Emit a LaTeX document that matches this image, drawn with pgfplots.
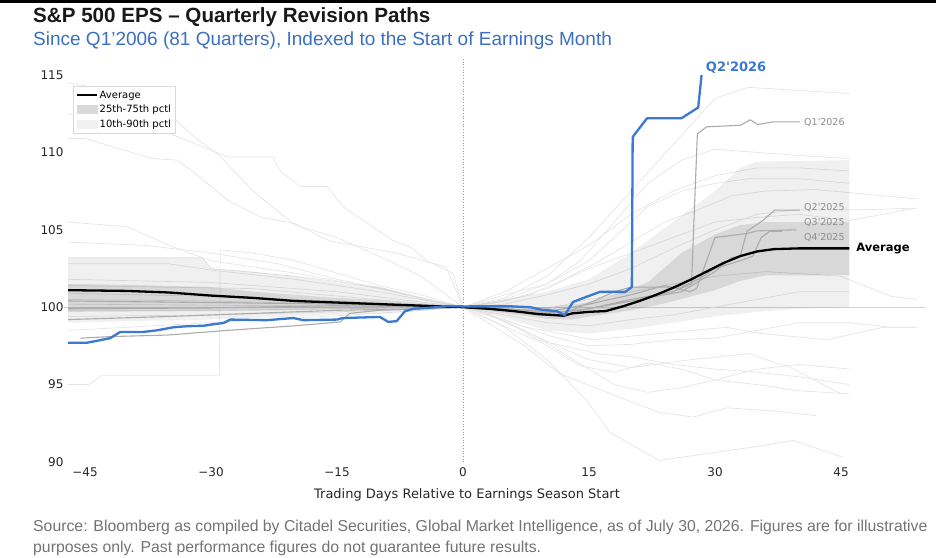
\documentclass[border=0pt]{standalone}
\usepackage{pgfplots}
\pgfplotsset{compat=1.18}
\usepackage{fontspec}
\setmainfont{Liberation Sans}
\newfontfamily\dv{DejaVu Sans}
\definecolor{qblue}{HTML}{3A78D2}
\definecolor{subblue}{HTML}{3B6FBF}
\definecolor{faint}{HTML}{E5E5E5}
\definecolor{mid}{HTML}{ABABAB}
\begin{document}
\begin{tikzpicture}
\begin{axis}[
  name=ax,
  scale only axis, width=861pt, height=402.5pt,
  xmin=-47.5, xmax=55, ymin=90, ymax=116,
  clip=false,
  axis line style={draw=none},
  tick style={draw=none},
  xtick={-45,-30,-15,0,15,30,45},
  xticklabels={−45,−30,−15,0,15,30,45},
  ytick={90,95,100,105,110,115},
  yticklabels={90,95,100,105,110,115},
  ticklabel style={font=\dv\fontsize{12}{12}\selectfont, text=black!85},
  xticklabel style={yshift=-2pt},
  yticklabel style={xshift=3pt},
  legend cell align=left,
  legend style={at={(axis description cs:0.0105,0.934)}, anchor=north west,
    draw=black!15, fill=white, font=\dv\fontsize{10}{12}\selectfont,
    row sep=2.5pt, inner sep=3pt, nodes={inner sep=1.5pt}},
]
\addlegendimage{legend image code/.code={\draw[black, line width=2pt] (0pt,0pt) -- (20pt,0pt);}}
\addlegendentry{Average}
\addlegendimage{legend image code/.code={\fill[black!15] (0pt,-4pt) rectangle (20pt,4pt);}}
\addlegendentry{25th-75th pctl}
\addlegendimage{legend image code/.code={\fill[black!6] (0pt,-4pt) rectangle (20pt,4pt);}}
\addlegendentry{10th-90th pctl}

% reference lines
\addplot[forget plot, black!18, line width=0.8pt] coordinates {(-47.5,100) (55,100)};
\addplot[forget plot, black!40, dotted, line width=0.7pt] coordinates {(0,90) (0,116)};

% faint individual quarter paths
\addplot[forget plot, faint, line width=0.7pt] coordinates {(-47,110.9) (-45,110.9) (-37,109.6) (-34,109.5) (-32,108.7) (-28,106.9) (-24,105.8) (-20,105.4) (-16,104.3) (-12,103.9) (-8,103.5) (-2,102.6) (0,100) (3,99.6) (6,98.8) (10,97.5) (14,96.2) (18,95.8) (22,96.4) (26,96.0) (30,95.3) (35,95.0) (40,94.6) (46,94.4)};
\addplot[forget plot, faint, line width=0.7pt] coordinates {(-47,112.5) (-40,112.3) (-33,110.8) (-28,109.7) (-22.6,109.7) (-21.8,108.8) (-19.4,107.8) (-16.2,107.8) (-14.3,106.5) (-8.3,104.3) (-6.3,103.9) (-4.3,103.0) (-1.2,102.2) (0,100) (4,100.3) (8,100.8) (12,101.8) (16,102.9) (20,104.2) (24,105.5) (28,106.3) (32,107.2) (36,107.5) (42,107.6) (50,107.2) (54,107.0)};
\addplot[forget plot, faint, line width=0.7pt] coordinates {(-47,114.5) (-42,114.0) (-36,113.0) (-32,111.0) (-29,109.8) (-25,107.5) (-20,105.3) (-15,104.5) (-10,103.3) (-5,102.0) (0,100) (5,100.6) (10,102.0) (15,104.5) (20,107.5) (25,110.5) (30,113.5) (34,114.2) (40,114.0) (46,113.8)};
\addplot[forget plot, faint, line width=0.7pt] coordinates {(-47,95.0) (-44.5,95.0) (-43,95.6) (-29,95.6) (-28.9,103.7) (-25,103.5) (-20,103.0) (-15,102.2) (-10,101.4) (-5,100.8) (0,100) (5,99.1) (10,97.8) (15,96.6) (20,96.1) (27,96.6) (34,97.0) (39,96.1) (45,94.4)};
\addplot[forget plot, faint, line width=0.7pt] coordinates {(-47,102.8) (-35,102.8) (-30,102.4) (-20,101.8) (-10,101.0) (0,100) (5,98.7) (10,96.6) (14.7,94.0) (17.5,91.9) (23.4,90.1) (29.8,90.6) (35,91.0) (39.3,91.4) (45.2,90.3)};
\addplot[forget plot, faint, line width=0.7pt] coordinates {(-47,103.2) (-31,103.2) (-30,102.5) (-20,102.0) (-10,101.3) (-5,100.6) (0,100) (7.6,97.4) (11.5,95.7) (19.5,94.0) (23.4,93.2) (27.4,92.9) (31.4,93.5) (36.9,93.3) (42,93.0)};
\addplot[forget plot, faint, line width=0.7pt] coordinates {(-47,101.8) (-30,101.6) (-15,101.0) (0,100) (7.6,98.7) (15.5,97.9) (23.4,98.3) (31.4,98.7) (35.4,98.3) (43.3,97.9) (50,98.7) (54,98.7)};
\addplot[forget plot, faint, line width=0.7pt] coordinates {(-47,100.5) (-30,100.4) (-15,100.2) (0,100) (5,100.2) (10,100.8) (15,101.5) (20,102.5) (25,103.8) (30,105.0) (35,106.0) (40,106.3) (48,106.3) (54,106.4)};
\addplot[forget plot, faint, line width=0.7pt] coordinates {(-47,99.4) (-30,99.5) (-15,99.7) (0,100) (5,99.8) (10,99.9) (15,100.5) (20,101.0) (25,101.5) (30,102.0) (36,102.3) (45,102.0) (51,100.7) (54,100.5)};
\addplot[forget plot, faint, line width=0.7pt] coordinates {(-47,105.5) (-40,105.2) (-35,104.0) (-30,103.0) (-20,102.2) (-10,101.2) (0,100) (5,101.0) (10,102.5) (15,104.0) (20,106.0) (25,107.5) (30,108.5) (35,109.0) (40,109.0) (46,108.8)};
\addplot[forget plot, faint, line width=0.7pt] coordinates {(-47,98.5) (-40,98.7) (-30,99.0) (-20,99.3) (-10,99.6) (0,100) (4,99.0) (8,98.0) (12,97.5) (16,97.0) (20,96.8) (25,96.3) (30,96.0) (35,95.8) (40,95.5) (46,95.0)};
\addplot[forget plot, faint, line width=0.7pt] coordinates {(-47,104.2) (-38,104.0) (-30,103.5) (-22,102.8) (-15,101.8) (-8,101.0) (0,100) (5,100.4) (10,101.2) (15,102.5) (20,103.5) (25,104.5) (30,105.5) (35,105.8) (40,106.0) (46,105.6) (54,106.4)};
\addplot[forget plot, faint, line width=0.7pt] coordinates {(-47,100.9) (-30,100.7) (-15,100.4) (0,100) (3,99.5) (6,98.8) (9,98.0) (12,97.0) (15,96.0) (18,95.0) (22,94.5) (26,94.8) (30,95.3) (35,96.0) (40,96.3) (46,96.0)};
\addplot[forget plot, faint, line width=0.7pt] coordinates {(-47,99.8) (-30,99.8) (0,100) (5,99.5) (10,99.0) (15,98.8) (20,99.2) (25,99.5) (30,100.0) (35,100.5) (40,101.0) (46,101.0)};
\addplot[forget plot, faint, line width=0.7pt] coordinates {(-47,101.4) (-25,101.2) (0,100) (5,100.8) (10,101.5) (14,103.0) (18,105.5) (22,108.0) (26,109.5) (30,110.2) (35,110.0) (40,109.8) (46,109.6)};
\addplot[forget plot, faint, line width=0.7pt] coordinates {(-47,100.2) (0,100) (5,99.2) (10,98.2) (15,97.5) (20,97.6) (25,97.9) (30,98.0) (35,98.5) (40,99.0) (46,99.0) (51,98.7) (54,98.7)};
\addplot[forget plot, faint, line width=0.7pt] coordinates {(0,100) (5,100.5) (10,101.5) (15,103.0) (18,104.5) (22,106.5) (26,107.5) (30,108.0) (34,108.3) (40,108.3) (46,108.0)};

% percentile bands
\addplot[forget plot, draw=none, fill=black, fill opacity=0.06] coordinates {
 (-47,103.2) (-31,103.2) (-30,102.5) (-25,102.3) (-20,102.0) (-15,101.6) (-10,101.3) (-5,100.6) (0,100) (5,100.5) (10,101.0) (15,101.8) (20,103.5) (25,105.5) (30,107.5) (33,109.0) (35,109.4) (46,109.5)
 (46,100.0) (40,99.9) (35,99.7) (30,99.4) (25,99.0) (20,98.6) (15,98.3) (10,98.5) (5,99.3) (0,100) (-5,99.75) (-10,99.6) (-20,99.4) (-30,99.2) (-40,99.1) (-47,99.0)} -- cycle;
\addplot[forget plot, draw=none, fill=black, fill opacity=0.10] coordinates {
 (-47,101.5) (-40,101.45) (-30,101.3) (-25,101.0) (-20,100.8) (-15,100.6) (-10,100.45) (-5,100.2) (0,100) (5,100.1) (10,100.0) (15,100.3) (18,100.8) (22,101.6) (26,103.5) (30,104.7) (33,105.3) (36,105.5) (46,105.5)
 (46,102.07) (36,102.05) (33,101.7) (30,101.1) (24,100.25) (20,99.8) (15,99.4) (13,99.2) (10,99.25) (5,99.6) (0,100) (-5,99.95) (-15,99.85) (-30,99.75) (-47,99.7)} -- cycle;

% recent quarters (medium grey)
\addplot[forget plot, mid, line width=1.1pt] coordinates {(-45.6,98.0) (-42,98.1) (-35.2,98.2) (-28.1,98.5) (-20,98.8) (-14.6,99.05) (-13.5,99.6) (-10,99.8) (-5,99.9) (0,100) (5,99.8) (10,99.6) (14,99.8) (18,100.2) (22,100.6) (26,101.0) (30,102.3) (32,103.2) (33,103.3) (33.8,104.9) (35.7,105.6) (37.1,106.27) (40.1,106.27)};
\addplot[forget plot, mid, line width=1.1pt] coordinates {(-47,99.2) (-35,99.4) (-25,99.6) (-15,99.8) (-5,99.9) (0,100) (5,99.9) (10,99.7) (15,100.2) (20,100.8) (24,101.4) (27,101.0) (27.8,101.2) (30,104.5) (33.8,104.76) (35,104.93) (39.7,105.0)};
\addplot[forget plot, mid, line width=1.1pt] coordinates {(-47,99.9) (-30,99.95) (-15,100.1) (0,100) (8,99.8) (12,99.6) (16,100.5) (18,101.0) (20,101.3) (26,101.3) (28,101.8) (30,102.5) (33,103.0) (34.5,103.3) (35.5,104.5) (36.5,104.9) (38,104.9)};
\addplot[forget plot, mid, line width=1.1pt] coordinates {(-47,100.4) (-30,100.3) (-15,100.2) (0,100) (5,99.8) (10,99.6) (15,99.9) (20,100.5) (25,101.0) (27.2,101.5) (27.9,111.2) (29,111.65) (33,111.75) (34.2,112.1) (35.1,111.8) (36.9,111.97) (40.1,111.97)};

% average
\addplot[forget plot, black, line width=2.3pt] coordinates {(-47,101.1) (-40,101.05) (-35,100.95) (-30,100.75) (-25,100.6) (-20,100.4) (-15,100.3) (-10,100.2) (-5,100.1) (0,100) (3,99.9) (6,99.75) (9,99.55) (12,99.45) (13,99.6) (15,99.7) (17,99.75) (19,100.05) (21,100.4) (23,100.8) (25,101.25) (27,101.75) (29,102.3) (31,102.85) (33,103.3) (35,103.6) (37,103.75) (40,103.8) (46,103.8)};

% current quarter
\addplot[forget plot, qblue, line width=2.3pt, line join=round] coordinates {(-47,97.7) (-44.8,97.7) (-43.2,97.87) (-42,98.0) (-40.8,98.4) (-38.1,98.4) (-36.5,98.5) (-34.5,98.7) (-32.9,98.77) (-30.9,98.8) (-29.7,98.9) (-28.5,98.98) (-27.7,99.2) (-23.4,99.16) (-20.2,99.3) (-19,99.16) (-15,99.2) (-14.3,99.3) (-9.9,99.37) (-8.9,99.05) (-7.9,99.1) (-6.9,99.74) (-5.9,99.9) (-3.6,99.98) (-1.9,100.08) (0,100.05) (5.6,100.06) (8,100) (9.2,99.85) (11.2,99.74) (12.1,99.48) (13.1,100.34) (14.7,100.67) (16.3,100.99) (19.3,100.99) (20.1,101.3) (20.2,111.0) (21.9,112.2) (26,112.2) (28,112.9) (28.4,115.0)};

% labels
\node[anchor=west, inner sep=0, text=black!45, font=\dv\fontsize{9.5}{11}\selectfont] at (axis cs:40.6,111.9) {Q1'2026};
\node[anchor=west, inner sep=0, text=black!45, font=\dv\fontsize{9.5}{11}\selectfont] at (axis cs:40.6,106.45) {Q2'2025};
\node[anchor=west, inner sep=0, text=black!45, font=\dv\fontsize{9.5}{11}\selectfont] at (axis cs:40.6,105.45) {Q3'2025};
\node[anchor=west, inner sep=0, text=black!45, font=\dv\fontsize{9.5}{11}\selectfont] at (axis cs:40.6,104.5) {Q4'2025};
\node[anchor=west, inner sep=0, text=black, font=\dv\bfseries\fontsize{11.5}{13}\selectfont] at (axis cs:46.8,103.8) {Average};
\node[anchor=west, inner sep=0, text=qblue, font=\dv\bfseries\fontsize{13}{15}\selectfont] at (axis cs:28.9,115.45) {Q2'2026};
\end{axis}
\begin{scope}[shift={(ax.south west)}, x=1pt, y=1pt, xshift=-64pt, yshift=-95pt]
\fill[black] (0,554) rectangle (936,557);
\node[anchor=west,inner sep=0,text=black!90] at (33,540) {\fontsize{20.6}{24}\selectfont\bfseries S\&P 500 EPS – Quarterly Revision Paths};
\node[anchor=west,inner sep=0,text=subblue] at (33,516) {\fontsize{19}{22}\selectfont Since Q1'2006 (81 Quarters), Indexed to the Start of Earnings Month};
\node[anchor=west,inner sep=0,text=black!55] at (33,30) {\fontsize{15.8}{18}\selectfont Source: Bloomberg as compiled by Citadel Securities, Global Market Intelligence, as of July 30, 2026. Figures are for illustrative};
\node[anchor=west,inner sep=0,text=black!55] at (33,9) {\fontsize{15.8}{18}\selectfont purposes only. Past performance figures do not guarantee future results.};
\node[inner sep=0,text=black!85] at (467,62) {\dv\fontsize{13}{15}\selectfont Trading Days Relative to Earnings Season Start};
\pgfresetboundingbox
\path[use as bounding box] (0,0) rectangle (936,557);
\end{scope}
\end{tikzpicture}
\end{document}
